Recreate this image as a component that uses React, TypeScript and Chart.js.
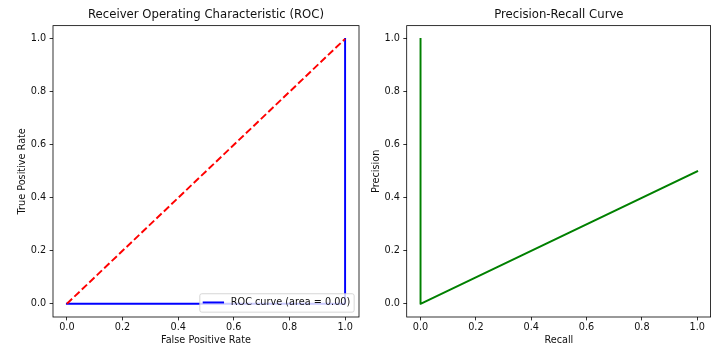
import React, { useEffect, useRef } from "react";
import { Chart, registerables } from "chart.js";

Chart.register(...registerables);

// ---- data ----
const rocFpr = [0, 1, 1];
const rocTpr = [0, 0, 1];
const chanceX = [0, 1];
const chanceY = [0, 1];
const prRecall = [1, 0, 0];
const prPrecision = [0.5, 0, 1];
const axisTicks = [0, 0.2, 0.4, 0.6, 0.8, 1.0];
const rocAuc = 0.0;
const rocLabel = `ROC curve (area = ${rocAuc.toFixed(2)})`;
const rocTitle = "Receiver Operating Characteristic (ROC)";
const prTitle = "Precision-Recall Curve";

const FAMILY = '"DejaVu Sans", sans-serif';
const TXT = "#111";
const FS = 9.7;
const TFS = 11.7;
const LW = 1.94;

const zip = (xs: number[], ys: number[]) => xs.map((x, i) => ({ x, y: ys[i] }));

const framePlugin = {
  id: "frame",
  afterDatasetsDraw(chart: any) {
    const { ctx, chartArea } = chart;
    const { left, top, right, bottom } = chartArea;
    ctx.save();
    ctx.strokeStyle = "#000";
    ctx.lineWidth = 0.8;
    const r = Math.min(right, chart.width - 0.4);
    ctx.strokeRect(left, top, r - left, bottom - top);
    ctx.restore();
  },
};

const rocLegendPlugin = {
  id: "rocLegend",
  afterDraw(chart: any) {
    const { ctx, chartArea } = chart;
    const { right, bottom } = chartArea;
    ctx.save();
    ctx.font = `${FS}px ${FAMILY}`;
    const tw = ctx.measureText(rocLabel).width;
    const pad = 0.4 * FS;
    const handle = 2 * FS;
    const tp = 0.8 * FS;
    const w = pad + handle + tp + tw + pad;
    const h = 18.4;
    const x1 = right - 0.5 * FS;
    const y1 = bottom - 0.5 * FS;
    const x0 = x1 - w;
    const y0 = y1 - h;
    const rad = 2;
    ctx.beginPath();
    ctx.moveTo(x0 + rad, y0);
    ctx.lineTo(x1 - rad, y0);
    ctx.quadraticCurveTo(x1, y0, x1, y0 + rad);
    ctx.lineTo(x1, y1 - rad);
    ctx.quadraticCurveTo(x1, y1, x1 - rad, y1);
    ctx.lineTo(x0 + rad, y1);
    ctx.quadraticCurveTo(x0, y1, x0, y1 - rad);
    ctx.lineTo(x0, y0 + rad);
    ctx.quadraticCurveTo(x0, y0, x0 + rad, y0);
    ctx.closePath();
    ctx.fillStyle = "rgba(255,255,255,0.8)";
    ctx.fill();
    ctx.strokeStyle = "#cccccc";
    ctx.lineWidth = 0.8;
    ctx.stroke();
    const cy = (y0 + y1) / 2 - 0.5;
    ctx.beginPath();
    ctx.moveTo(x0 + pad, cy);
    ctx.lineTo(x0 + pad + handle, cy);
    ctx.strokeStyle = "#0000ff";
    ctx.lineWidth = LW;
    ctx.lineCap = "square";
    ctx.stroke();
    ctx.fillStyle = TXT;
    ctx.textBaseline = "middle";
    ctx.textAlign = "left";
    ctx.fillText(rocLabel, x0 + pad + handle + tp, cy);
    ctx.restore();
  },
};

function makeAxis(
  title: string,
  isX: boolean,
  size: number,
  titlePad: number
): any {
  return {
    type: "linear",
    min: -0.05,
    max: 1.05,
    afterBuildTicks: (s: any) => {
      s.ticks = axisTicks.map((v) => ({ value: v }));
    },
    afterFit: (s: any) => {
      if (isX) s.height = size;
      else s.width = size;
    },
    ticks: {
      callback: (v: any) => Number(v).toFixed(1),
      font: { family: FAMILY, size: FS },
      color: TXT,
      padding: isX ? 1.6 : 3.4,
      autoSkip: false,
      maxRotation: 0,
    },
    grid: {
      display: true,
      drawOnChartArea: false,
      drawTicks: true,
      tickLength: 3.4,
      tickWidth: 0.8,
      tickColor: "#000",
    },
    border: { display: false },
    title: {
      display: true,
      text: title,
      color: TXT,
      font: { family: FAMILY, size: FS },
      padding: isX ? { top: 0, bottom: 2.7 } : { top: titlePad, bottom: 0 },
    },
  };
}

function makeOptions(title: string, yWidth: number, yTitlePad: number, padRight: number): any {
  return {
    responsive: false,
    animation: false,
    devicePixelRatio: 1,
    layout: { padding: { left: 0, right: padRight, top: 0, bottom: 0 } },
    elements: { point: { radius: 0, hoverRadius: 0 }, line: { tension: 0 } },
    plugins: {
      legend: { display: false },
      tooltip: { enabled: false },
      title: {
        display: true,
        text: title,
        fullSize: false,
        color: TXT,
        font: { family: FAMILY, size: TFS, weight: "normal" },
        padding: { top: 8.1, bottom: 3.5 },
      },
    },
    scales: {
      x: makeAxis(title === rocTitle ? "False Positive Rate" : "Recall", true, 32, 0),
      y: makeAxis(title === rocTitle ? "True Positive Rate" : "Precision", false, yWidth, yTitlePad),
    },
  };
}

export default function App() {
  const rocRef = useRef<HTMLCanvasElement>(null);
  const prRef = useRef<HTMLCanvasElement>(null);

  useEffect(() => {
    Chart.defaults.font.family = FAMILY;
    const roc = new Chart(rocRef.current as HTMLCanvasElement, {
      type: "line",
      data: {
        datasets: [
          {
            data: zip(chanceX, chanceY),
            borderColor: "#ff0000",
            borderWidth: LW,
            borderDash: [7.2, 3.1],
            borderCapStyle: "butt",
            fill: false,
          },
          {
            label: rocLabel,
            data: zip(rocFpr, rocTpr),
            borderColor: "#0000ff",
            borderWidth: LW,
            borderCapStyle: "square",
            borderJoinStyle: "round",
            fill: false,
          },
        ],
      },
      options: makeOptions(rocTitle, 53, 16.7, 21),
      plugins: [framePlugin, rocLegendPlugin],
    } as any);

    const pr = new Chart(prRef.current as HTMLCanvasElement, {
      type: "line",
      data: {
        datasets: [
          {
            data: zip(prRecall, prPrecision),
            borderColor: "#008000",
            borderWidth: LW,
            borderCapStyle: "square",
            borderJoinStyle: "round",
            fill: false,
          },
        ],
      },
      options: makeOptions(prTitle, 46.7, 10.2, 0),
      plugins: [framePlugin],
    } as any);

    return () => {
      roc.destroy();
      pr.destroy();
    };
  }, []);

  return (
    <div style={{ position: "absolute", left: 0, top: 0, width: 711, height: 349, background: "#fff" }}>
      <canvas
        ref={rocRef}
        width={380}
        height={349}
        style={{ position: "absolute", left: 0, top: 0, width: 380, height: 349 }}
      />
      <canvas
        ref={prRef}
        width={351}
        height={349}
        style={{ position: "absolute", left: 360, top: 0, width: 351, height: 349 }}
      />
    </div>
  );
}
